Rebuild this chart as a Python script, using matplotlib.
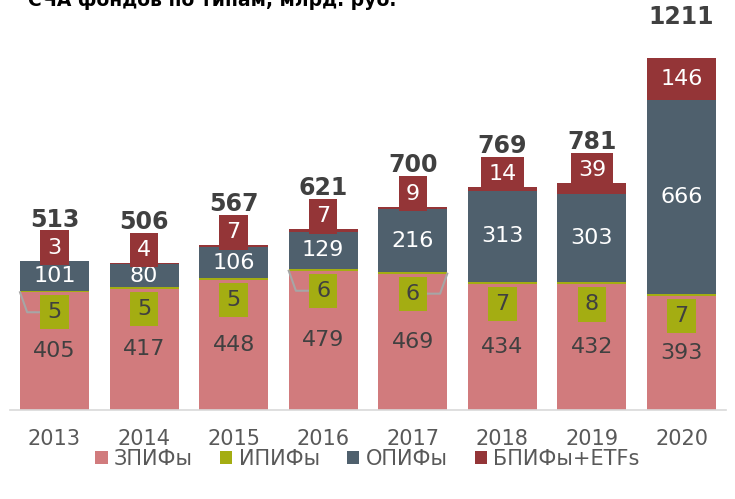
import matplotlib.pyplot as plt
import numpy as np

# data
years = ["2013", "2014", "2015", "2016", "2017", "2018", "2019", "2020"]
zpif = [405, 417, 448, 479, 469, 434, 432, 393]
ipif = [5, 5, 5, 6, 6, 7, 8, 7]
opif = [101, 80, 106, 129, 216, 313, 303, 666]
bpif = [3, 4, 7, 7, 9, 14, 39, 146]
totals = [513, 506, 567, 621, 700, 769, 781, 1211]
series_names = ["ЗПИФы", "ИПИФы", "ОПИФы", "БПИФы+ETFs"]

c_zpif = "#d17b7d"
c_ipif = "#a4ad12"
c_opif = "#4f606d"
c_bpif = "#943537"
txt = "#404040"

plt.rcParams['font.family'] = ['DejaVu Sans']

fig = plt.figure(figsize=(7.35, 4.99), dpi=100)
ax = fig.add_axes([9.7 / 735, 1 - 410 / 499, 716.6 / 735, 407 / 499])

x = np.arange(len(years))
w = 0.77
zp = np.array(zpif)
ip = np.array(ipif)
op = np.array(opif)
bp = np.array(bpif)

ax.bar(x, zp, w, color=c_zpif, label=series_names[0])
ax.bar(x, ip, w, bottom=zp, color=c_ipif, label=series_names[1])
ax.bar(x, op, w, bottom=zp + ip, color=c_opif, label=series_names[2])
ax.bar(x, bp, w, bottom=zp + ip + op, color=c_bpif, label=series_names[3])

ax.set_xlim(-0.5, len(years) - 0.5)
ax.set_ylim(0, 1400)

# pixels per data unit (vertical)
ppu = 407 / 1400
fs = 16

for i in range(len(years)):
    # ЗПИФы
    ax.text(x[i], zp[i] / 2, str(zpif[i]), ha="center", va="center",
            fontsize=fs, color=txt)
    # ОПИФы
    ax.text(x[i], zp[i] + ip[i] + op[i] / 2, str(opif[i]), ha="center",
            va="center", fontsize=fs, color="white")
    # ИПИФы boxes below the boundary
    ylab = zp[i] - 20 / ppu
    ax.text(x[i], ylab, str(ipif[i]), ha="center", va="center", fontsize=fs,
            color=txt, bbox=dict(boxstyle="square,pad=0.32", fc=c_ipif, ec="none"))
    # БПИФы boxes
    top = zp[i] + ip[i] + op[i] + bp[i]
    if bp[i] > 60:
        yb = top - bp[i] / 2
    else:
        yb = top + 13 / ppu
    ax.text(x[i], yb, str(bpif[i]), ha="center", va="center", fontsize=fs,
            color="white", bbox=dict(boxstyle="square,pad=0.32", fc=c_bpif, ec="none"))
    # totals
    ax.text(x[i], top + 41 / ppu, str(totals[i]), ha="center", va="center",
            fontsize=17, fontweight="bold", color=txt)

# leader lines for a few ИПИФы labels
for i, side in [(0, -1), (3, -1), (4, 1)]:
    edge = x[i] + side * w / 2
    ylab = zp[i] - 20 / ppu
    ax.plot([edge, edge - side * 0.08, x[i] + side * 0.17],
            [zp[i], ylab, ylab], color="#a6a6a6", lw=1.5, zorder=1.5)

for s in ["top", "right", "left"]:
    ax.spines[s].set_visible(False)
ax.spines["bottom"].set_color("#d9d9d9")
ax.spines["bottom"].set_linewidth(1.2)
ax.set_yticks([])
ax.set_xticks(x)
ax.set_xticklabels(years, fontsize=15, color="#595959")
ax.tick_params(axis="x", length=0, pad=14)

fig.legend(loc="center", bbox_to_anchor=(0.5, 1 - 459 / 499), ncol=4,
           frameon=False, fontsize=15, handlelength=0.6, handleheight=0.6,
           handletextpad=0.3, columnspacing=1.3, labelcolor="#595959")

# title is clipped at the top edge, as in the reference
fig.text(28 / 735, 1 - 6 / 499, "СЧА фондов по типам, млрд. руб.",
         fontsize=13.5, fontweight="bold", color="black", va="baseline")

fig.savefig("out.png", dpi=100)
